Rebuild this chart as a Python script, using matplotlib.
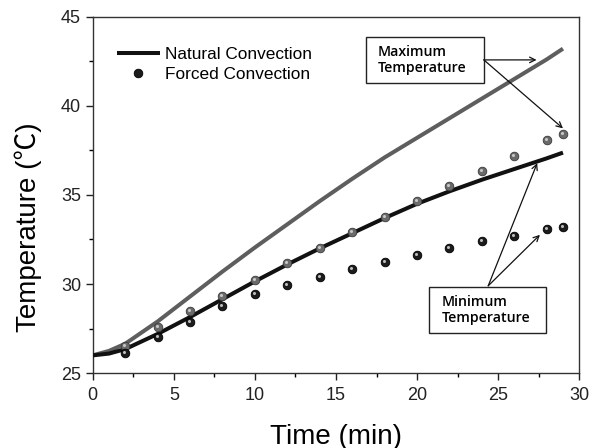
import matplotlib
matplotlib.use('Agg')
import matplotlib.pyplot as plt
from matplotlib.ticker import MultipleLocator
from matplotlib.transforms import offset_copy
from matplotlib.patches import Rectangle

plt.rcParams['font.family'] = ['Liberation Sans', 'DejaVu Sans']

# natural convection (lines)
time_line = [0, 1, 2, 4, 6, 8, 10, 12, 14, 16, 18, 20, 22, 24, 26, 28, 29]
nat_max = [26.0, 26.25, 26.65, 27.9, 29.3, 30.7, 32.05, 33.35, 34.65, 35.9, 37.1, 38.2, 39.3, 40.4, 41.5, 42.6, 43.2]
nat_min = [26.0, 26.1, 26.35, 27.2, 28.15, 29.15, 30.15, 31.1, 32.0, 32.85, 33.7, 34.5, 35.2, 35.85, 36.45, 37.05, 37.37]

# forced convection (dots)
time_dot = [2, 4, 6, 8, 10, 12, 14, 16, 18, 20, 22, 24, 26, 28, 29]
forced_max = [26.53, 27.58, 28.49, 29.35, 30.25, 31.17, 32.04, 32.94, 33.78, 34.66, 35.52, 36.35, 37.2, 38.05, 38.42]
forced_min = [26.16, 27.02, 27.89, 28.74, 29.45, 29.95, 30.42, 30.87, 31.26, 31.65, 32.04, 32.42, 32.72, 33.08, 33.22]

fig = plt.figure(figsize=(5.91, 4.48), dpi=100)
ax = fig.add_axes([0.157, 0.167, 0.823, 0.796])

ax.plot(time_line, nat_max, color='#5e5e5e', lw=2.9, zorder=2, solid_capstyle='butt')
ax.plot(time_line, nat_min, color='#111111', lw=2.9, zorder=3, solid_capstyle='butt',
        label='Natural Convection')

hl = offset_copy(ax.transData, fig=fig, x=-1.0, y=1.0, units='dots')
ax.plot(time_dot, forced_max, 'o', ms=6.2, color='#6a6a6a', mec='#3a3a3a', mew=0.6, zorder=4)
ax.plot(time_dot, forced_max, 'o', ms=2.2, color='#c8c8c8', mew=0, zorder=5, transform=hl)
ax.plot(time_dot, forced_min, 'o', ms=6.2, color='#1c1c1c', mec='#000000', mew=0.6, zorder=4,
        label='Forced Convection')
ax.plot(time_dot, forced_min, 'o', ms=2.2, color='#bdbdbd', mew=0, zorder=5, transform=hl)

ax.set_xlim(0, 30)
ax.set_ylim(25, 45)
ax.xaxis.set_major_locator(MultipleLocator(5))
ax.xaxis.set_minor_locator(MultipleLocator(2.5))
ax.yaxis.set_major_locator(MultipleLocator(5))
ax.yaxis.set_minor_locator(MultipleLocator(2.5))
ax.tick_params(which='major', direction='out', length=5, width=1, labelsize=13, colors='#222222')
ax.tick_params(which='minor', direction='out', length=3, width=1)
ax.tick_params(axis='x', pad=5)
for s in ax.spines.values():
    s.set_color('#333333')
    s.set_linewidth(1)

ax.set_xlabel('Time (min)', fontsize=20, labelpad=14)
ax.set_ylabel('Temperature (℃)', fontsize=20, family=['Liberation Sans', 'Noto Sans CJK KR'])
ax.yaxis.set_label_coords(-0.105, 0.41)

leg = ax.legend(loc='upper left', bbox_to_anchor=(0.035, 0.935), frameon=False, fontsize=12.4,
                handlelength=2.5, handletextpad=0.3, labelspacing=0.3, borderaxespad=0,
                numpoints=1)

# annotation boxes
note_font = dict(fontsize=10.2, fontweight='semibold', family=['Open Sans', 'DejaVu Sans'],
                 va='center', ha='left', linespacing=1.2, transform=ax.transAxes, zorder=7)
ax.add_patch(Rectangle((0.5617, 0.8134), 0.2425, 0.1306, transform=ax.transAxes,
                       fc='white', ec='#222222', lw=1, zorder=6))
ax.text(0.5864, 0.879, 'Maximum\nTemperature', **note_font)
ax.add_patch(Rectangle((0.6917, 0.1122), 0.2399, 0.129, transform=ax.transAxes,
                       fc='white', ec='#222222', lw=1, zorder=6))
ax.text(0.7172, 0.1767, 'Minimum\nTemperature', **note_font)

arrow_kw = dict(arrowstyle='->', color='#111111', lw=0.9, shrinkA=0, shrinkB=0)
ax.annotate('', xy=(27.37, 42.57), xytext=(24.12, 42.57), arrowprops=arrow_kw, zorder=8)
ax.annotate('', xy=(29.0, 38.73), xytext=(24.12, 42.57), arrowprops=arrow_kw, zorder=8)
ax.annotate('', xy=(27.41, 36.78), xytext=(24.39, 29.9), arrowprops=arrow_kw, zorder=8)
ax.annotate('', xy=(27.58, 32.76), xytext=(24.39, 29.9), arrowprops=arrow_kw, zorder=8)

fig.savefig('out.png', dpi=100)
